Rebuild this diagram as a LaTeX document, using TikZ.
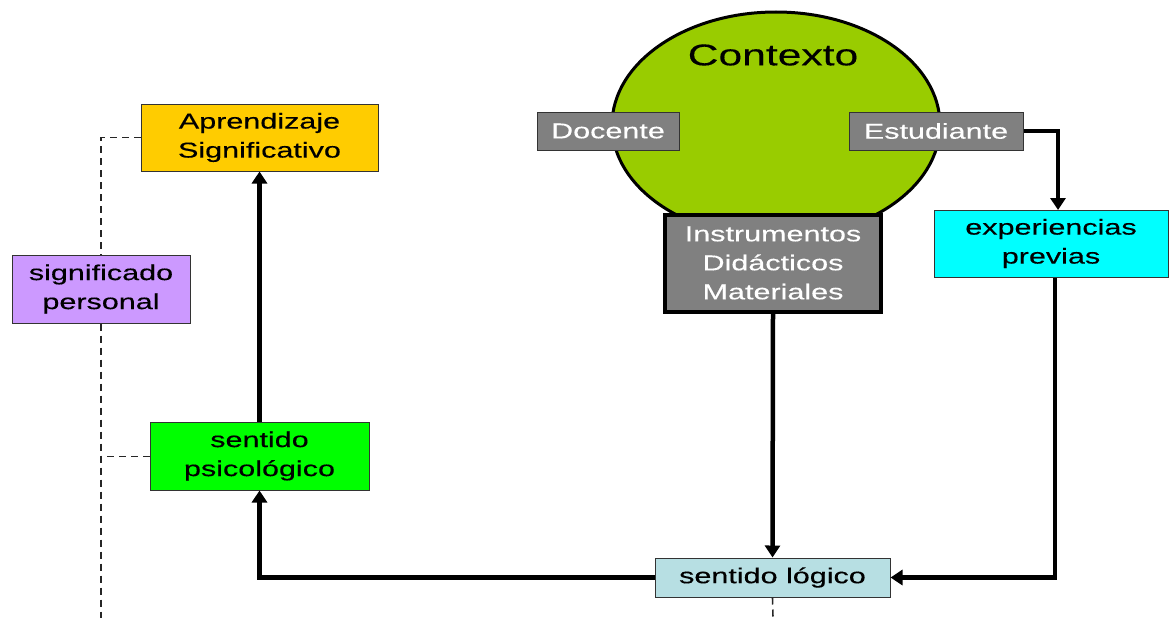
\documentclass[tikz,border=0pt]{standalone}
\usepackage{fontspec}
\setmainfont[FakeStretch=1.42,FakeBold=0.3]{Liberation Sans}
\usetikzlibrary{arrows.meta,shapes.geometric}
\definecolor{gold}{HTML}{FFCC00}
\definecolor{lilac}{HTML}{CC99FF}
\definecolor{lime}{HTML}{00FF00}
\definecolor{aqua}{HTML}{00FFFF}
\definecolor{paleblue}{HTML}{B7DFE3}
\definecolor{olive}{HTML}{99CC00}
\definecolor{midgray}{HTML}{808080}
\definecolor{edge}{HTML}{333333}
\tikzset{
  box/.style={draw=edge, line width=1pt, inner sep=0pt, align=center,
    font=\fontsize{21.5}{29}\selectfont},
  graybox/.style={box, fill=midgray, text=white},
  flow/.style={line width=4.5pt, -{Triangle[width=15pt,length=12pt]}},
  link/.style={line width=1.6pt, dashed, dash pattern=on 7pt off 5pt, draw=black!85},
}
\begin{document}
\begin{tikzpicture}[x=1pt,y=-1pt]
\useasboundingbox (0,0) rectangle (1169,618);
% context ellipse
\node[ellipse, draw=black, line width=3pt, fill=olive, minimum width=328pt, minimum height=226pt, inner sep=0pt] (ctx) at (776,125) {};
\node[font=\fontsize{30}{36}\selectfont] (ctxlabel) at (773,55) {Contexto};
\node[graybox, draw=black, line width=4pt, minimum width=216pt, minimum height=97pt] (instr) at (773,263)
  {Instrumentos\\Didácticos\\Materiales};
\node[graybox, minimum width=142pt, minimum height=38pt] (doc) at (608,131) {Docente};
\node[graybox, minimum width=174pt, minimum height=38pt] (est) at (936,131) {Estudiante};
% other boxes
\node[box, fill=gold, minimum width=237pt, minimum height=67pt] (apr) at (259.5,137.5) {Aprendizaje\\Significativo};
\node[box, fill=lilac, minimum width=178pt, minimum height=68pt] (sigp) at (101,289) {significado\\personal};
\node[box, fill=lime, minimum width=219pt, minimum height=68pt] (psi) at (259.5,456) {sentido\\psicológico};
\node[box, fill=aqua, minimum width=234pt, minimum height=67pt] (exp) at (1051,243.5) {experiencias\\previas};
\node[box, fill=paleblue, minimum width=235pt, minimum height=39pt] (log) at (772.5,577.5) {sentido lógico};
\coordinate (bl) at (101,618);
\coordinate (bm) at (773,618);
% flows
\draw[flow] (est.east) -| (1058,210);
\draw[flow] (exp.south -| 1055,0) |- (log.east);
\draw[flow] (instr.south) -- (log.north);
\draw[flow] (log.west) -| (psi.south);
\draw[flow] (psi.north) -- (apr.south);
% dashed links
\draw[link] (apr.west) -| (sigp.north);
\draw[link] (sigp.south) -- (bl);
\draw[link, line width=1pt] (psi.west) -- (101,456);
\draw[link] (log.south) -- (bm);
\end{tikzpicture}
\end{document}
